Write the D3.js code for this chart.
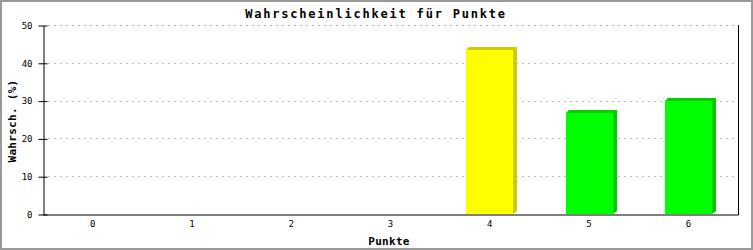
<html>
<head>
<style type="text/css">
  body { margin: 0; background: #fff; }
  text { font-family: "DejaVu Sans Mono", "Liberation Mono", monospace; fill: #000; }
  .grid line { stroke: #bbb; stroke-dasharray: 2,4; }
</style>
</head>
<body>
<svg id="chart" width="753" height="250"></svg>
<script src="https://cdn.jsdelivr.net/npm/d3@7"></script>
<script>
  // DATA
  var categories = ["0", "1", "2", "3", "4", "5", "6"];
  var values = [0, 0, 0, 0, 43.4, 26.7, 29.9];
  var yTicks = [0, 10, 20, 30, 40, 50];
  var barColours = ["#00ff00", "#00ff00", "#00ff00", "#00ff00", "#ffff00", "#00ff00", "#00ff00"];
  var shadowColours = ["#00cc00", "#00cc00", "#00cc00", "#00cc00", "#cccc00", "#00cc00", "#00cc00"];

  var svg = d3.select("#chart"),
    width = +svg.attr("width"),
    height = +svg.attr("height");

  // plot area
  var plotLeft = 43, plotRight = 738, plotTop = 25, plotBottom = 214;

  // frame round the picture
  svg.append("rect")
    .attr("x", 1).attr("y", 1)
    .attr("width", width - 2).attr("height", height - 2)
    .attr("fill", "#fff")
    .attr("stroke", "#999")
    .attr("stroke-width", 2);

  var x = d3.scaleBand()
    .domain(categories)
    .range([plotLeft, plotRight]);

  var y = d3.scaleLinear()
    .domain([0, 50])
    .range([plotBottom, plotTop]);

  // gridlines
  svg.append("g")
    .attr("class", "grid")
    .selectAll("line")
    .data(yTicks.filter(function(d) { return d > 0; }))
    .enter()
    .append("line")
    .attr("x1", plotLeft + 5)
    .attr("x2", plotRight)
    .attr("y1", function(d) { return Math.round(y(d)) + 0.5; })
    .attr("y2", function(d) { return Math.round(y(d)) + 0.5; });

  // bars with a darker shadow behind
  var barWidth = 47;
  function barX(d) { return Math.round(x(d.cat) + (x.bandwidth() - barWidth) / 2); }

  var bars = svg.append("g")
    .selectAll("g")
    .data(values.map(function(v, i) { return { cat: categories[i], v: v, i: i }; })
      .filter(function(d) { return d.v > 0; }))
    .enter()
    .append("g");

  bars.append("path")
    .attr("fill", function(d) { return shadowColours[d.i]; })
    .attr("d", function(d) {
      var x0 = barX(d);
      var yt = Math.round(y(d.v));
      return "M" + x0 + "," + yt + "L" + (x0 + 3) + "," + (yt - 3) +
        "L" + (x0 + barWidth + 4) + "," + (yt - 3) +
        "L" + (x0 + barWidth + 4) + "," + (plotBottom - 3) +
        "L" + (x0 + barWidth) + "," + plotBottom + "Z";
    });

  bars.append("rect")
    .attr("fill", function(d) { return barColours[d.i]; })
    .attr("x", barX)
    .attr("y", function(d) { return Math.round(y(d.v)); })
    .attr("width", barWidth)
    .attr("height", function(d) { return plotBottom - Math.round(y(d.v)); });

  // y axis
  var yAxis = svg.append("g")
    .attr("transform", "translate(" + (plotLeft + 0.5) + ",0.5)")
    .call(d3.axisLeft(y).tickValues(yTicks).tickSize(5).tickSizeOuter(0));
  yAxis.select(".domain").attr("stroke", "#000");
  yAxis.selectAll(".tick line").attr("x2", -5).attr("x1", 4);
  yAxis.selectAll(".tick text")
    .attr("x", -11)
    .style("font-size", "9px")
    .style("font-family", "'DejaVu Sans Mono', monospace");

  // x axis
  var xAxis = svg.append("g")
    .attr("transform", "translate(0," + (plotBottom + 0.5) + ")")
    .call(d3.axisBottom(x).tickSize(0).tickSizeOuter(0));
  xAxis.select(".domain").attr("stroke", "#000");
  xAxis.selectAll(".tick text")
    .attr("y", 6)
    .style("font-size", "9px")
    .style("font-family", "'DejaVu Sans Mono', monospace");

  // right border of the plot
  svg.append("line")
    .attr("x1", plotRight + 0.5).attr("x2", plotRight + 0.5)
    .attr("y1", plotTop).attr("y2", plotBottom + 1)
    .attr("stroke", "#000");

  // title and axis labels
  svg.append("text")
    .attr("x", 376)
    .attr("y", 18)
    .attr("text-anchor", "middle")
    .style("font-size", "12px")
    .style("font-weight", "bold")
    .style("letter-spacing", "1.8px")
    .text("Wahrscheinlichkeit für Punkte");

  svg.append("text")
    .attr("x", 389)
    .attr("y", 245)
    .attr("text-anchor", "middle")
    .style("font-size", "11px")
    .style("font-weight", "bold")
    .style("letter-spacing", "0.3px")
    .text("Punkte");

  svg.append("text")
    .attr("transform", "translate(16,121) rotate(-90)")
    .attr("text-anchor", "middle")
    .style("font-size", "11px")
    .style("font-weight", "bold")
    .style("letter-spacing", "0.3px")
    .text("Wahrsch. (%)");
</script>
</body>
</html>
